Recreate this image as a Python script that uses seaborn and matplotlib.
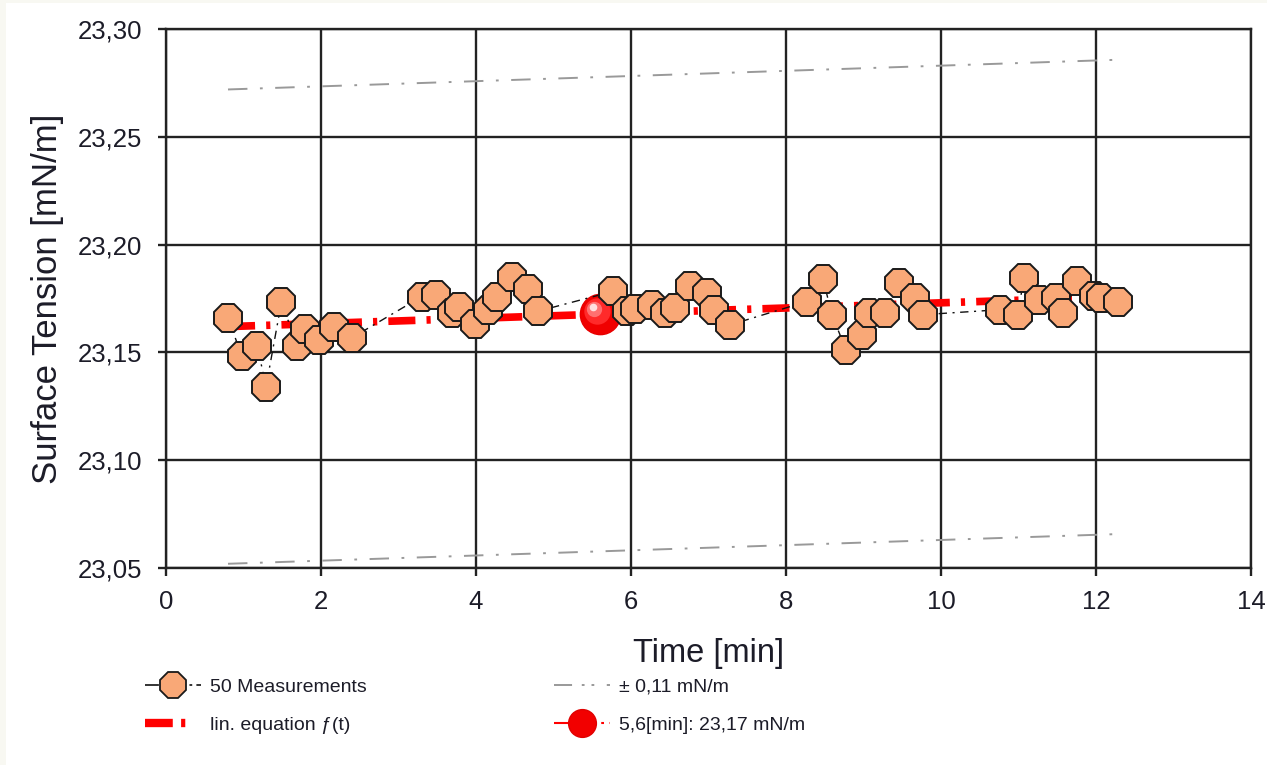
import matplotlib
matplotlib.use("Agg")
import matplotlib.pyplot as plt
import matplotlib.transforms as mtransforms
from matplotlib.lines import Line2D
from matplotlib.patches import Rectangle
from matplotlib.ticker import FuncFormatter
import numpy as np
import seaborn as sns

# --- Data --------------------------------------------------------------------
time_min = [0.80, 0.98, 1.18, 1.29, 1.49, 1.69, 1.79, 1.97, 2.17, 2.40,
            3.30, 3.48, 3.69, 3.78, 3.99, 4.16, 4.27, 4.47, 4.67, 4.80,
            5.77, 5.95, 6.05, 6.27, 6.44, 6.57, 6.76, 6.98, 7.07, 7.28,
            8.27, 8.48, 8.59, 8.78, 8.98, 9.07, 9.28, 9.46, 9.66, 9.77,
            10.76, 10.99, 11.07, 11.27, 11.48, 11.58, 11.76, 11.97, 12.07, 12.28]
tension = [23.1661, 23.1481, 23.1529, 23.1339, 23.1735, 23.1532, 23.1610, 23.1556, 23.1617, 23.1568,
           23.1759, 23.1767, 23.1684, 23.1710, 23.1633, 23.1698, 23.1756, 23.1849, 23.1795, 23.1691,
           23.1783, 23.1690, 23.1701, 23.1721, 23.1683, 23.1706, 23.1806, 23.1775, 23.1698, 23.1628,
           23.1736, 23.1840, 23.1675, 23.1509, 23.1582, 23.1683, 23.1683, 23.1824, 23.1752, 23.1675,
           23.1698, 23.1675, 23.1845, 23.1744, 23.1752, 23.1683, 23.1829, 23.1760, 23.1752, 23.1736]

fit_intercept = 23.161   # mN/m at t = 0
fit_slope = 0.0012       # mN/m per min
band_halfwidth = 0.11    # mN/m
pt_time = 5.6            # min, highlighted point on the fit

x_ticks = [0, 2, 4, 6, 8, 10, 12, 14]
y_ticks = [23.05, 23.10, 23.15, 23.20, 23.25, 23.30]

labels = ["50 Measurements", "lin. equation \u0192(t)",
          "\u00b1 0,11 mN/m", "5,6[min]: 23,17 mN/m"]

# --- Derived series ----------------------------------------------------------
fit_x = np.array([min(time_min), max(time_min)])
fit_y = fit_intercept + fit_slope * fit_x
pt_value = fit_intercept + fit_slope * pt_time

# --- Style -------------------------------------------------------------------
sns.set_style("white")
plt.rcParams['font.family'] = ['Liberation Sans', 'DejaVu Sans']
plt.rcParams['lines.scale_dashes'] = False   # dash patterns below are in points
TEXT = '#1c1c28'
GRID = '#222222'
FACE = '#f9a877'
BAND_LS = (0, (14, 9, 2, 9))
FIT_LS = (0, (19.5, 8, 3, 8))
MEAS_LS = (0, (6, 4, 1.5, 4))

fig = plt.figure(figsize=(12.67, 7.65), dpi=100, facecolor='#f8f8f2')
fig.patches.append(Rectangle((6 / 1267, 0), 1, 1 - 3 / 765, transform=fig.transFigure,
                             facecolor='white', edgecolor='none', zorder=-10))
ax = fig.add_axes([166 / 1267, 1 - 568 / 765, (1251 - 166) / 1267, (568 - 29) / 765])
ax.set_facecolor('white')

# confidence band
for sign in (1, -1):
    sns.lineplot(x=fit_x, y=fit_y + sign * band_halfwidth, ax=ax, color='#999999',
                 lw=1.4, ls=BAND_LS, zorder=2, legend=False)

# linear fit
sns.lineplot(x=fit_x, y=fit_y, ax=ax, color='#ff0000', lw=5.5,
             ls=FIT_LS, zorder=3, legend=False)

# highlighted point on the fit (shaded ball)
ax.plot([pt_time], [pt_value], marker='o', ms=29, color='#f00000', mec='#e80000',
        ls='none', zorder=4)
for dx, dy, ms, col in [(-2, 2, 19, '#ff2a2a'), (-4, 4, 11, '#ff7070'),
                        (-5, 5, 5.5, '#ffe0e0')]:
    tr = mtransforms.offset_copy(ax.transData, fig=fig, x=dx, y=dy, units='points')
    ax.plot([pt_time], [pt_value], marker='o', ms=ms, color=col, mec='none',
            ls='none', zorder=4, transform=tr)

# measurements
sns.lineplot(x=time_min, y=tension, ax=ax, color='#111111', lw=1.0,
             ls=MEAS_LS, marker='8', markersize=22,
             markerfacecolor=FACE, markeredgecolor='#1a1a1a',
             markeredgewidth=1.4, zorder=5, legend=False)

# --- Axes --------------------------------------------------------------------
ax.set_xlim(0, 14)
ax.set_ylim(23.05, 23.30)
ax.set_xticks(x_ticks)
ax.set_yticks(y_ticks)
ax.yaxis.set_major_formatter(FuncFormatter(lambda v, p: f"{v:.2f}".replace('.', ',')))
ax.grid(True, color=GRID, lw=1.7, zorder=0)
ax.set_axisbelow(True)
for sp in ax.spines.values():
    sp.set_color(GRID)
    sp.set_linewidth(1.7)
ax.tick_params(axis='both', direction='out', length=6, width=1.7, color=GRID,
               labelsize=18.5, labelcolor=TEXT, bottom=True, left=True)
ax.tick_params(axis='x', pad=10)
ax.tick_params(axis='y', pad=11)
ax.set_xlabel("Time [min]", fontsize=23.5, color=TEXT, labelpad=17)
ax.set_ylabel("Surface Tension [mN/m]", fontsize=25, color=TEXT, labelpad=10)

# --- Legend ------------------------------------------------------------------
h_meas = Line2D([], [], color='#111111', lw=1.2, ls=(0, (10, 22, 2, 3)), marker='8',
                markersize=20, markerfacecolor=FACE, markeredgecolor='#1a1a1a',
                markeredgewidth=1.3)
h_fit = Line2D([], [], color='#ff0000', lw=6, ls=(0, (20, 6, 3, 20)))
h_band = Line2D([], [], color='#999999', lw=1.4, ls=(0, (13, 7, 2, 5, 2, 9)))
h_pt = Line2D([], [], color='#ff0000', lw=1.5, ls=(0, (30, 4, 2, 4)), marker='o',
              markersize=20, markerfacecolor='#f20000', markeredgecolor='#e00000')
fig.legend([h_meas, h_fit, h_band, h_pt], labels, ncol=2, loc='upper left',
           bbox_to_anchor=(145 / 1267, 1 - 678 / 765), frameon=False,
           prop={'family': ['Liberation Sans'], 'size': 14},
           labelcolor=TEXT, handlelength=2.9, handletextpad=0.45, columnspacing=9.6,
           labelspacing=1.05, borderpad=0, borderaxespad=0)

fig.savefig('out.png', dpi=100, facecolor=fig.get_facecolor())
